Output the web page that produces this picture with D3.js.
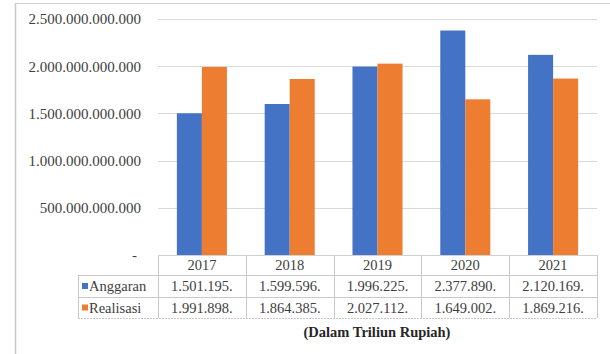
<!DOCTYPE html>
<html>
<head>
<meta charset="utf-8">
<script src="https://cdn.jsdelivr.net/npm/d3@7"></script>
<style>
  html, body { margin: 0; padding: 0; background: #fff; }
  svg { display: block; }
</style>
</head>
<body>
<svg id="chart" width="610" height="354"></svg>
<script>
// Budget vs. realisation, 2017–2021 (values in billions of rupiah, shown truncated in the table)
const years = ["2017", "2018", "2019", "2020", "2021"];
const anggaran = [1501195, 1599596, 1996225, 2377890, 2120169];
const realisasi = [1991898, 1864385, 2027112, 1649002, 1869216];
const seriesNames = ["Anggaran", "Realisasi"];
const seriesColors = ["#4472C4", "#ED7D31"];
const yTicks = [0, 500e9, 1000e9, 1500e9, 2000e9, 2500e9];
const caption = "(Dalam Triliun Rupiah)";

const UNIT = 1e6; // table figures are in millions of the axis unit
const series = [anggaran, realisasi];
const FONT = "Liberation Serif";
const TEXT_COLOR = "#404040";

const svg = d3.select("#chart");

// frame of the figure
svg.append("line").attr("x1", 15.5).attr("x2", 15.5).attr("y1", 3).attr("y2", 354)
  .attr("stroke", "#c8c8c8").attr("stroke-width", 1.5);
svg.append("line").attr("x1", 15).attr("x2", 610).attr("y1", 3.5).attr("y2", 3.5)
  .attr("stroke", "#d0d0d0").attr("stroke-width", 1);

const plot = { left: 158, right: 597, top: 19, bottom: 255 };

const y = d3.scaleLinear().domain([0, 2500e9]).range([plot.bottom, plot.top]);
const x0 = d3.scaleBand().domain(years).range([plot.left, plot.right]).padding(0);
const groupW = x0.bandwidth() * 0.57;
const x1 = d3.scaleBand().domain(seriesNames).range([0, groupW]).padding(0);

const fmtDots = d3.formatLocale({ decimal: ",", thousands: ".", grouping: [3], currency: ["", ""] }).format(",d");

// gridlines
svg.append("g")
  .selectAll("line")
  .data(yTicks.filter(d => d > 0))
  .join("line")
  .attr("x1", plot.left).attr("x2", plot.right)
  .attr("y1", d => Math.round(y(d)) + 0.5).attr("y2", d => Math.round(y(d)) + 0.5)
  .attr("stroke", "#d9d9d9").attr("stroke-width", 1);

// y axis labels
const yAxis = d3.axisLeft(y)
  .tickValues(yTicks)
  .tickSize(0)
  .tickPadding(0)
  .tickFormat(d => d === 0 ? "-" : fmtDots(d));
const gy = svg.append("g").attr("transform", `translate(141,0)`).call(yAxis);
gy.select(".domain").remove();
gy.selectAll("text")
  .style("font-family", FONT)
  .style("font-size", "15px")
  .style("fill", TEXT_COLOR)
  .attr("dx", d => d === 0 ? -4 : 0);

// bars
const groups = svg.append("g")
  .selectAll("g")
  .data(years)
  .join("g")
  .attr("transform", d => `translate(${x0(d) + (x0.bandwidth() - groupW) / 2},0)`);

groups.selectAll("rect")
  .data((d, i) => seriesNames.map((s, k) => ({ s, v: series[k][i] * UNIT, k })))
  .join("rect")
  .attr("x", d => x1(d.s))
  .attr("width", x1.bandwidth())
  .attr("y", d => y(d.v))
  .attr("height", d => plot.bottom - y(d.v))
  .attr("fill", d => seriesColors[d.k]);

// baseline
svg.append("line").attr("x1", plot.left).attr("x2", plot.right)
  .attr("y1", plot.bottom + 0.5).attr("y2", plot.bottom + 0.5)
  .attr("stroke", "#d0d0d0");

// data table
const rowY = [255, 275, 297, 318];
const legendLeft = 78;
const tableStroke = "#c8c8c8";
const table = svg.append("g");

// horizontal rules
table.selectAll("line.h")
  .data(rowY.slice(1))
  .join("line")
  .attr("class", "h")
  .attr("x1", legendLeft).attr("x2", plot.right)
  .attr("y1", d => d + 0.5).attr("y2", d => d + 0.5)
  .attr("stroke", tableStroke)
  .attr("stroke-dasharray", (d, i) => i === 2 ? "2,1" : null);

// vertical rules at category boundaries
const bounds = years.map(d => x0(d)).concat([plot.right]);
table.selectAll("line.v")
  .data(bounds)
  .join("line")
  .attr("class", "v")
  .attr("x1", d => Math.round(d) + 0.5).attr("x2", d => Math.round(d) + 0.5)
  .attr("y1", rowY[0]).attr("y2", rowY[3])
  .attr("stroke", tableStroke);
table.append("line")
  .attr("x1", legendLeft + 0.5).attr("x2", legendLeft + 0.5)
  .attr("y1", rowY[1]).attr("y2", rowY[3])
  .attr("stroke", tableStroke);

// year header
table.selectAll("text.year")
  .data(years)
  .join("text")
  .attr("class", "year")
  .attr("x", d => x0(d) + x0.bandwidth() / 2)
  .attr("y", (rowY[0] + rowY[1]) / 2)
  .attr("dy", "0.35em")
  .attr("text-anchor", "middle")
  .style("font-family", FONT)
  .style("font-size", "14.5px")
  .style("fill", TEXT_COLOR)
  .text(d => d);

// value rows
series.forEach((vals, k) => {
  const cy = (rowY[k + 1] + rowY[k + 2]) / 2;
  table.selectAll(`text.val${k}`)
    .data(vals)
    .join("text")
    .attr("class", `val${k}`)
    .attr("x", (d, i) => x0(years[i]) + x0.bandwidth() / 2)
    .attr("y", cy)
    .attr("dy", "0.35em")
    .attr("text-anchor", "middle")
    .style("font-family", FONT)
    .style("font-size", "14.5px")
    .style("fill", TEXT_COLOR)
    .text(d => fmtDots(d) + ".");

  // legend key
  table.append("rect")
    .attr("x", 82).attr("y", cy - 3)
    .attr("width", 6).attr("height", 6)
    .attr("fill", seriesColors[k]);
  table.append("text")
    .attr("x", 89).attr("y", cy)
    .attr("dy", "0.35em")
    .style("font-family", FONT)
    .style("font-size", "14.5px")
    .style("fill", TEXT_COLOR)
    .text(seriesNames[k]);
});

// unit caption
svg.append("text")
  .attr("x", 377).attr("y", 332)
  .attr("dy", "0.35em")
  .attr("text-anchor", "middle")
  .style("font-family", FONT)
  .style("font-size", "14.5px")
  .style("font-weight", "bold")
  .style("fill", "#262626")
  .text(caption);
</script>
</body>
</html>
